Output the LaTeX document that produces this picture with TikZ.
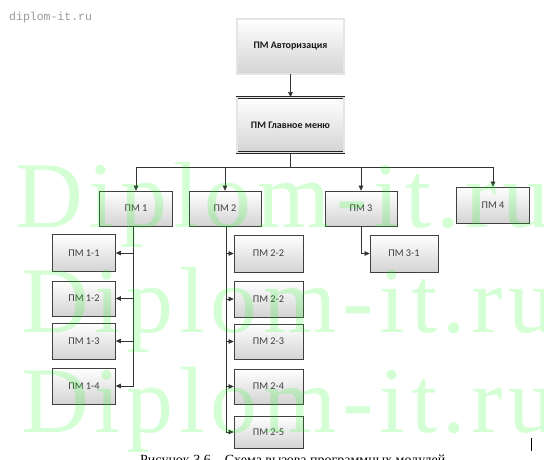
\documentclass[tikz,border=0pt]{standalone}
\usepackage{fontspec}
\setmainfont{Liberation Serif}
\newfontfamily\boxfont{Carlito}
\newfontfamily\wmfont[LetterSpace=6]{Liberation Serif}
\newfontfamily\sitefont{Liberation Mono}
\usetikzlibrary{arrows.meta}
\tikzset{
  pmbox/.style={draw=black!75, line width=0.65pt, top color=white, bottom color=black!17,
    font=\boxfont\fontsize{10.3}{12}\selectfont, text=black!75, inner sep=0pt,
    minimum width=72pt, minimum height=36pt},
  subbox/.style={pmbox, minimum width=63pt},
  topbox/.style={pmbox, draw=black!85, line width=0.8pt, double=black!10, double distance=1.1pt,
    minimum width=107pt, minimum height=55pt, text=black!90,
    font=\boxfont\bfseries\fontsize{10}{12}\selectfont},
  conn/.style={draw=black!80, line width=0.6pt},
  arr/.style={conn, -{Triangle[length=5pt,width=4.5pt]}},
  wm/.style={anchor=base west, inner sep=0pt, text=green, text opacity=0.17,
    font=\wmfont\fontsize{94}{94}\selectfont}
}
\begin{document}
\begin{tikzpicture}[x=1pt,y=-1pt]
\useasboundingbox (0,0) rectangle (544,460);
\clip (0,0) rectangle (544,460);
\fill[white] (0,0) rectangle (544,460);

\node[anchor=base west, inner sep=0pt, text=black!40, font=\sitefont\fontsize{11.5}{12}\selectfont] (site) at (9,21) {diplom-it.ru};

\node[topbox] (auth) at (290.5,46.5) {ПМ Авторизация};
\node[topbox] (main) at (290.5,125) {ПМ Главное меню};

\node[pmbox, minimum width=73pt, minimum height=35pt] (pm1) at (136,208.5) {ПМ 1};
\node[pmbox, minimum height=35pt] (pm2) at (225,208.5) {ПМ 2};
\node[pmbox, minimum height=35pt] (pm3) at (361,208.5) {ПМ 3};
\node[pmbox, minimum width=73pt] (pm4) at (493,205) {ПМ 4};

\node[subbox, minimum height=37pt] (pm11) at (84,253) {ПМ 1-1};
\node[subbox, minimum height=35pt] (pm12) at (84,298.5) {ПМ 1-2};
\node[subbox] (pm13) at (84,341) {ПМ 1-3};
\node[subbox] (pm14) at (84,386) {ПМ 1-4};

\node[subbox, minimum width=69pt, minimum height=37pt] (pm22a) at (268.5,253.5) {ПМ 2-2};
\node[subbox, minimum width=69pt] (pm22b) at (268.5,299) {ПМ 2-2};
\node[subbox, minimum width=69pt, minimum height=35pt] (pm23) at (268.5,341.5) {ПМ 2-3};
\node[subbox, minimum width=69pt, minimum height=35pt] (pm24) at (268.5,386.5) {ПМ 2-4};
\node[subbox, minimum width=69pt, minimum height=32pt] (pm25) at (268.5,432) {ПМ 2-5};

\node[subbox, minimum width=68pt, minimum height=37pt] (pm31) at (404,253.5) {ПМ 3-1};

% connectors
\draw[arr] (auth) -- (main);
\coordinate (bus) at (290.5,167);
\draw[conn] (main) -- (bus);
\draw[conn] (bus -| pm1) -- (bus -| pm4);
\draw[arr] (bus -| pm1) -- (pm1);
\draw[arr] (bus -| pm2) -- (pm2);
\draw[arr] (bus -| pm3) -- (pm3);
\draw[arr] (bus -| pm4) -- (pm4);

\coordinate (v1) at ([xshift=-3pt]pm1.south);
\draw[arr] (v1) |- (pm14.east);
\foreach \n in {pm11,pm12,pm13} \draw[arr] (v1 |- \n) -- (\n.east);

\coordinate (v2) at ([xshift=1pt]pm2.south);
\draw[arr] (v2) |- (pm25.west);
\foreach \n in {pm22a,pm22b,pm23,pm24} \draw[arr] (v2 |- \n) -- (\n.west);

\draw[arr] (pm3.south) |- (pm31.west);

% caption and cursor
\node[anchor=base west, inner sep=0pt, font=\fontsize{14}{16}\selectfont] (cap) at (140,464.5) {Рисунок 3.6 – Схема вызова программных модулей};
\draw[line width=0.9pt] (531,438) -- (531,451);

% watermark
\node[wm] (wm1) at (15,227) {Diplom-it.ru};
\node[wm] (wm2) at (21,332) {Diplom-it.ru};
\node[wm] (wm3) at (21,432) {Diplom-it.ru};
\end{tikzpicture}
\end{document}
